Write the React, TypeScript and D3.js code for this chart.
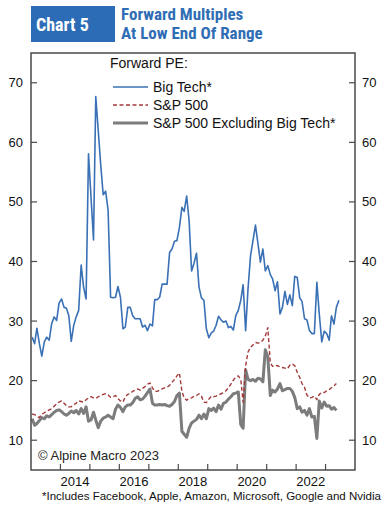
import React from 'react';
import * as d3 from 'd3';

// monthly readings, Jan 2013 onward
const bigTech = [
  27.3, 26.2, 28.8, 26.2, 24.1, 26.5, 27.3, 26.8, 29.6, 30.7, 30.1, 33.0,
  33.7, 32.3, 32.2, 30.9, 26.6, 29.3, 30.7, 31.8, 39.4, 35.7, 33.7, 58.1,
  50.8, 43.6, 67.7, 61.9, 56.3, 51.2, 51.8, 48.6, 34.0, 33.9, 34.0, 35.8,
  34.0, 28.7, 29.0, 32.3, 32.3, 30.9, 30.4, 30.4, 30.4, 29.0, 29.3, 28.4,
  29.5, 29.2, 33.6, 33.6, 34.0, 36.2, 36.2, 36.2, 41.5, 42.1, 43.4, 43.5,
  45.7, 49.1, 48.4, 51.0, 46.9, 38.4, 39.7, 41.4, 35.7, 33.9, 33.5, 28.7,
  27.2, 28.0, 28.3, 29.3, 30.8, 30.2, 29.8, 30.0, 28.9, 29.1, 28.5, 30.9,
  31.8, 33.5, 36.1, 28.4, 35.5, 41.0, 43.5, 46.1, 43.0, 39.9, 42.1, 38.4,
  39.3, 37.8, 37.1, 35.1, 36.6, 31.2, 32.3, 35.0, 32.8, 34.4, 32.6, 37.5,
  37.3, 33.9, 33.3, 30.4, 30.2, 28.4, 27.9, 27.9, 36.5, 31.2, 26.5, 28.3,
  27.9, 26.8, 30.9, 29.5, 32.3, 33.5,
];

const sp500 = [
  14.4, 14.3, 14.0, 13.8, 14.4, 14.6, 14.9, 15.1, 15.3, 15.7, 16.1, 16.4,
  16.6, 16.2, 15.8, 15.6, 15.6, 16.0, 16.2, 16.6, 16.5, 16.4, 16.8, 17.1,
  17.3, 17.1, 17.0, 17.3, 17.5, 17.7, 17.8, 17.6, 17.2, 17.3, 17.5, 17.0,
  16.6, 16.4, 17.3, 17.7, 17.8, 18.2, 18.4, 18.6, 18.4, 18.7, 19.0, 19.4,
  19.6, 18.8, 18.2, 18.2, 18.4, 18.6, 18.8, 18.9, 19.2, 19.7, 20.2, 20.8,
  21.3, 18.2, 17.1, 16.7, 17.0, 17.1, 17.4, 17.5, 17.8, 17.4, 16.4, 16.3,
  16.9, 17.4, 17.3, 17.4, 17.6, 17.8, 18.0, 18.3, 18.8, 19.4, 20.1, 20.6,
  20.8, 20.2, 16.4, 22.5, 24.8, 25.6, 26.0, 26.4, 26.3, 26.4, 26.8, 27.5,
  28.9, 23.0, 22.4, 22.6, 22.5, 22.3, 22.2, 22.1, 22.0, 22.6, 22.8, 22.5,
  21.4, 20.5, 19.5, 18.9, 17.6, 17.1, 17.2, 17.4, 16.8, 17.7, 18.0, 18.0,
  18.3, 18.5, 18.8, 19.1, 19.5,
];

const spExTech = [
  13.6, 12.5, 12.8, 13.3, 13.8, 13.6, 14.1, 13.9, 14.3, 14.7, 15.0, 15.1,
  14.8, 14.4, 14.2, 14.5, 14.9, 14.6, 15.0, 14.4, 15.3, 14.5, 15.6, 13.2,
  13.4, 14.7, 13.4, 12.1, 13.2, 13.7, 13.9, 14.2, 13.9, 13.6, 15.2, 15.9,
  15.5, 14.8, 15.6, 15.9, 15.9, 16.3, 17.0, 17.3, 16.8, 16.9, 17.4, 18.0,
  18.6, 16.2, 15.9, 15.9, 16.0, 15.9, 16.0, 15.8, 15.7, 16.0, 16.5, 17.5,
  17.9, 11.5, 11.0, 10.5, 12.0, 12.9, 13.2, 13.5, 14.2, 13.6, 14.4, 13.6,
  15.3, 15.0, 15.4, 14.8, 15.9, 15.2, 16.2, 16.4, 16.9, 17.3, 17.8, 17.9,
  18.1, 12.6, 12.0, 21.8, 20.2, 20.0, 20.2, 19.9, 20.4, 20.3, 19.8, 25.2,
  24.0, 17.5, 18.4, 18.1, 18.6, 19.5, 18.3, 18.5, 18.7, 18.7, 18.2, 17.2,
  15.3, 15.6, 14.7, 15.0, 14.2, 15.3, 13.9, 14.0, 10.3, 16.6, 15.4, 16.4,
  15.7, 15.8, 15.2, 15.5, 15.0,
];

const yTicks = [10, 20, 30, 40, 50, 60, 70];
const yearTicks = [2014, 2015, 2016, 2017, 2018, 2019, 2020, 2021, 2022, 2023];
const yearLabels = [2014, 2016, 2018, 2020, 2022];

const legendItems = [
  { name: 'Big Tech*', color: '#3a70b5', width: 1.6, dash: null as string | null },
  { name: 'S&P 500', color: '#a33a3a', width: 1.4, dash: '4,2.5' },
  { name: 'S&P 500 Excluding Big Tech*', color: '#7c7c7c', width: 3, dash: null },
];

const W = 391;
const H = 516;
const plot = { left: 31, right: 355, top: 53, bottom: 470 };
const font = '"Liberation Sans", Arial, sans-serif';
const narrow = '"Liberation Sans Narrow", "Roboto Condensed", "Liberation Sans", Arial, sans-serif';

const monthDate = (i: number) => d3.timeMonth.offset(new Date(2013, 0, 15), i);

export default function App() {
  const x = d3.scaleTime()
    .domain([new Date(2013, 0, 1), new Date(2024, 0, 1)])
    .range([plot.left, plot.right]);
  const y = d3.scaleLinear().domain([5, 75]).range([plot.bottom, plot.top]);

  const line = d3.line<number>()
    .x((_, i) => x(monthDate(i)))
    .y((d) => y(d));

  const series = [bigTech, sp500, spExTech];
  const drawOrder = [2, 1, 0];

  return (
    <svg width={W} height={H} style={{ position: 'absolute', left: 0, top: 0, background: '#fff' }}>
      {/* header */}
      <rect x={31} y={6} width={84} height={36} fill="#2c6bb5" />
      <text x={36} y={31} fill="#fff" fontFamily={narrow} fontWeight="bold" fontSize={18}>Chart 5</text>
      <text x={121} y={20} fill="#2f6db5" fontFamily={narrow} fontWeight="bold" fontSize={17}>Forward Multiples</text>
      <text x={121} y={39} fill="#2f6db5" fontFamily={narrow} fontWeight="bold" fontSize={17}>At Low End Of Range</text>

      {/* series */}
      {drawOrder.map((k) => (
        <path
          key={k}
          d={line(series[k]) ?? ''}
          fill="none"
          stroke={legendItems[k].color}
          strokeWidth={legendItems[k].width}
          strokeDasharray={legendItems[k].dash ?? undefined}
          strokeLinejoin="round"
        />
      ))}

      {/* frame */}
      <rect x={plot.left} y={plot.top} width={plot.right - plot.left} height={plot.bottom - plot.top}
        fill="none" stroke="#4a4a4a" strokeWidth={1.5} />

      {/* y axes */}
      {yTicks.map((t) => (
        <g key={t}>
          <line x1={plot.left} x2={plot.left + 6} y1={y(t)} y2={y(t)} stroke="#4a4a4a" strokeWidth={1.2} />
          <line x1={plot.right - 6} x2={plot.right} y1={y(t)} y2={y(t)} stroke="#4a4a4a" strokeWidth={1.2} />
          <text x={23} y={y(t) + 4.5} textAnchor="end" fontFamily={font} fontSize={13} fill="#111">{t}</text>
          <text x={362} y={y(t) + 4.5} textAnchor="start" fontFamily={font} fontSize={13} fill="#111">{t}</text>
        </g>
      ))}

      {/* x axis */}
      {yearTicks.map((yr) => (
        <line key={yr} x1={x(new Date(yr, 0, 1))} x2={x(new Date(yr, 0, 1))} y1={plot.bottom} y2={plot.bottom - 6}
          stroke="#4a4a4a" strokeWidth={1.2} />
      ))}
      {yearLabels.map((yr) => (
        <text key={yr} x={x(new Date(yr, 6, 1))} y={486} textAnchor="middle" fontFamily={font} fontSize={13} fill="#111">{yr}</text>
      ))}

      {/* legend */}
      <text x={110} y={68} fontFamily={font} fontSize={14} fill="#111">Forward PE:</text>
      {legendItems.map((it, i) => (
        <g key={it.name} transform={`translate(113,${87 + i * 18})`}>
          <line x1={0} x2={35} y1={0} y2={0} stroke={it.color} strokeWidth={it.width}
            strokeDasharray={it.dash ?? undefined} />
          <text x={40} y={5} fontFamily={font} fontSize={14} fill="#111">{it.name}</text>
        </g>
      ))}

      <text x={38} y={460} fontFamily={font} fontSize={13} fill="#222">© Alpine Macro 2023</text>
      <text x={42} y={500} fontFamily={font} fontSize={11.5} fill="#111" textLength={339} lengthAdjust="spacingAndGlyphs">
        *Includes Facebook, Apple, Amazon, Microsoft, Google and Nvidia
      </text>
    </svg>
  );
}
